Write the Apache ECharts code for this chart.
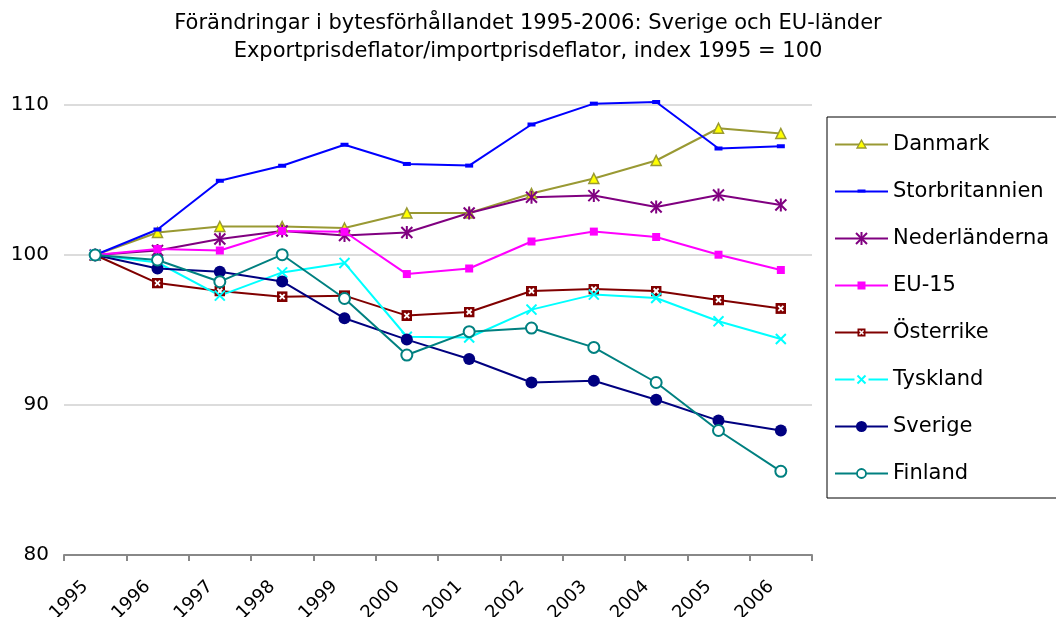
<!DOCTYPE html>
<html>
<head>
<meta charset="utf-8">
<script src="https://cdn.jsdelivr.net/npm/echarts@6/dist/echarts.min.js"></script>
<style>
  html, body { margin: 0; padding: 0; background: #fff; }
  #chart { width: 1056px; height: 617px; }
</style>
</head>
<body>
<div id="chart"></div>
<script>
// år och index (1995 = 100)
var years = ["1995", "1996", "1997", "1998", "1999", "2000", "2001", "2002", "2003", "2004", "2005", "2006"];
var danmark = [100, 101.5, 101.9, 101.9, 101.8, 102.8, 102.8, 104.1, 105.1, 106.3, 108.45, 108.1];
var storbritannien = [100, 101.7, 104.95, 105.95, 107.35, 106.07, 105.96, 108.7, 110.09, 110.2, 107.1, 107.25];
var nederlanderna = [100, 100.3, 101.07, 101.6, 101.3, 101.5, 102.8, 103.85, 103.96, 103.2, 104.0, 103.33];
var eu15 = [100, 100.4, 100.3, 101.6, 101.55, 98.73, 99.1, 100.9, 101.56, 101.2, 100.02, 99.0];
var osterrike = [100, 98.13, 97.6, 97.22, 97.29, 95.96, 96.2, 97.6, 97.73, 97.6, 97.0, 96.44];
var tyskland = [100, 99.5, 97.29, 98.84, 99.47, 94.55, 94.5, 96.36, 97.36, 97.13, 95.58, 94.4];
var sverige = [100, 99.1, 98.89, 98.24, 95.78, 94.36, 93.07, 91.5, 91.62, 90.35, 88.96, 88.3];
var finland = [100, 99.67, 98.22, 100.02, 97.1, 93.33, 94.89, 95.13, 93.84, 91.5, 88.3, 85.58];

var yMin = 80, yMax = 110, yStep = 10;

function svgUrl(body, w, h) {
  return 'image://data:image/svg+xml;charset=utf-8,' + encodeURIComponent(
    '<svg xmlns="http://www.w3.org/2000/svg" width="' + w + '" height="' + h + '" viewBox="0 0 ' + w + ' ' + h + '">' + body + '</svg>');
}

// markörer som svg-kroppar, ritade kring (cx, cy)
function starBody(cx, cy) {
  return '<g stroke="#800080" stroke-width="2">' +
    '<line x1="' + cx + '" y1="' + (cy - 6.5) + '" x2="' + cx + '" y2="' + (cy + 6.5) + '"/>' +
    '<line x1="' + (cx - 5.5) + '" y1="' + (cy - 5.5) + '" x2="' + (cx + 5.5) + '" y2="' + (cy + 5.5) + '"/>' +
    '<line x1="' + (cx + 5.5) + '" y1="' + (cy - 5.5) + '" x2="' + (cx - 5.5) + '" y2="' + (cy + 5.5) + '"/></g>';
}
function crossBody(cx, cy) {
  return '<g stroke="#00FFFF" stroke-width="2">' +
    '<line x1="' + (cx - 5) + '" y1="' + (cy - 5) + '" x2="' + (cx + 5) + '" y2="' + (cy + 5) + '"/>' +
    '<line x1="' + (cx + 5) + '" y1="' + (cy - 5) + '" x2="' + (cx - 5) + '" y2="' + (cy + 5) + '"/></g>';
}
function boxCrossBody(cx, cy) {
  return '<rect x="' + (cx - 5.5) + '" y="' + (cy - 5.5) + '" width="11" height="11" fill="#800000"/>' +
    '<g stroke="#ffffff" stroke-width="1.8"><line x1="' + (cx - 2.5) + '" y1="' + (cy - 2.5) + '" x2="' + (cx + 2.5) + '" y2="' + (cy + 2.5) + '"/>' +
    '<line x1="' + (cx + 2.5) + '" y1="' + (cy - 2.5) + '" x2="' + (cx - 2.5) + '" y2="' + (cy + 2.5) + '"/></g>';
}

var starIcon = svgUrl(starBody(7, 7), 14, 14);
var crossIcon = svgUrl(crossBody(6, 6), 12, 12);
var boxCrossIcon = svgUrl(boxCrossBody(5.5, 5.5), 11, 11);

// legendikoner: linje + liten markör
var LW = 53, LH = 14;
function legendIcon(color, marker) {
  var mid = LH / 2, cx = LW / 2;
  var gapLine = marker.gap
    ? '<line x1="0" y1="' + mid + '" x2="' + (cx - 7) + '" y2="' + mid + '" stroke="' + color + '" stroke-width="2"/>' +
      '<line x1="' + (cx + 7) + '" y1="' + mid + '" x2="' + LW + '" y2="' + mid + '" stroke="' + color + '" stroke-width="2"/>'
    : '<line x1="0" y1="' + mid + '" x2="' + LW + '" y2="' + mid + '" stroke="' + color + '" stroke-width="2"/>';
  return svgUrl(gapLine + marker.body(cx, mid), LW, LH);
}
var legendMarkers = {
  'Danmark': { color: '#999933', body: function (x, y) { return '<polygon points="' + x + ',' + (y - 4.5) + ' ' + (x + 4.5) + ',' + (y + 3.5) + ' ' + (x - 4.5) + ',' + (y + 3.5) + '" fill="#FFFF00" stroke="#999933" stroke-width="1.3"/>'; } },
  'Storbritannien': { color: '#0000FF', body: function (x, y) { return '<rect x="' + (x - 4) + '" y="' + (y - 2) + '" width="8" height="3" fill="#0000FF"/>'; } },
  'Nederländerna': { color: '#800080', body: starBody },
  'EU-15': { color: '#FF00FF', body: function (x, y) { return '<rect x="' + (x - 4) + '" y="' + (y - 4) + '" width="8" height="8" fill="#FF00FF"/>'; } },
  'Österrike': { color: '#800000', body: function (x, y) { return '<rect x="' + (x - 4) + '" y="' + (y - 4) + '" width="8" height="8" fill="#800000"/><g stroke="#fff" stroke-width="1.5"><line x1="' + (x - 2) + '" y1="' + (y - 2) + '" x2="' + (x + 2) + '" y2="' + (y + 2) + '"/><line x1="' + (x + 2) + '" y1="' + (y - 2) + '" x2="' + (x - 2) + '" y2="' + (y + 2) + '"/></g>'; } },
  'Tyskland': { color: '#00FFFF', gap: true, body: function (x, y) { return '<g stroke="#00FFFF" stroke-width="2"><line x1="' + (x - 4) + '" y1="' + (y - 4) + '" x2="' + (x + 4) + '" y2="' + (y + 4) + '"/><line x1="' + (x + 4) + '" y1="' + (y - 4) + '" x2="' + (x - 4) + '" y2="' + (y + 4) + '"/></g>'; } },
  'Sverige': { color: '#000080', body: function (x, y) { return '<circle cx="' + x + '" cy="' + y + '" r="5.5" fill="#000080"/>'; } },
  'Finland': { color: '#008080', body: function (x, y) { return '<circle cx="' + x + '" cy="' + y + '" r="4.5" fill="#fff" stroke="#008080" stroke-width="1.8"/>'; } }
};
var legendNames = ['Danmark', 'Storbritannien', 'Nederländerna', 'EU-15', 'Österrike', 'Tyskland', 'Sverige', 'Finland'];

function line(name, data, color, symbol, size, itemStyle) {
  return {
    name: name,
    type: 'line',
    data: data,
    symbol: symbol,
    symbolSize: size,
    showAllSymbol: true,
    clip: false,
    lineStyle: { color: color, width: 2 },
    itemStyle: itemStyle || { color: color },
    animation: false
  };
}

var chart = echarts.init(document.getElementById('chart'));
var option = {
  backgroundColor: '#fff',
  textStyle: { fontFamily: 'DejaVu Sans' },
  title: {
    text: 'Förändringar i bytesförhållandet 1995-2006: Sverige och EU-länder\nExportprisdeflator/importprisdeflator, index 1995 = 100',
    left: 'center',
    top: 5,
    textStyle: { fontSize: 21, fontWeight: 'normal', color: '#000', lineHeight: 28, fontFamily: 'DejaVu Sans' }
  },
  legend: {
    orient: 'vertical',
    left: 827,
    top: 117,
    padding: [17, 80, 14, 8],
    borderColor: '#000',
    borderWidth: 1,
    itemWidth: LW,
    itemHeight: LH,
    itemGap: 26,
    textStyle: { fontSize: 21, color: '#000', fontFamily: 'DejaVu Sans' },
    data: legendNames.map(function (n) {
      return { name: n, icon: legendIcon(legendMarkers[n].color, legendMarkers[n]) };
    })
  },
  grid: { left: 64, right: 244, top: 105, bottom: 62, containLabel: false, outerBoundsMode: 'none' },
  xAxis: {
    type: 'category',
    data: years,
    boundaryGap: true,
    axisLine: { lineStyle: { color: '#888', width: 2 } },
    axisTick: { show: true, length: 6, lineStyle: { color: '#888', width: 2 } },
    axisLabel: { rotate: 45, fontSize: 18, color: '#000', margin: 19, padding: [0, 14, 0, 0], fontFamily: 'DejaVu Sans' }
  },
  yAxis: {
    type: 'value',
    min: yMin,
    max: yMax,
    interval: yStep,
    axisLine: { show: false },
    axisTick: { show: false },
    axisLabel: { fontSize: 20, color: '#000', margin: 15, fontFamily: 'DejaVu Sans' },
    splitLine: { lineStyle: { color: '#d0d0d0', width: 1.5 } }
  },
  series: [
    line('Danmark', danmark, '#999933', 'triangle', 10, { color: '#FFFF00', borderColor: '#999933', borderWidth: 1.5 }),
    line('Storbritannien', storbritannien, '#0000FF', 'rect', [8, 4]),
    line('Nederländerna', nederlanderna, '#800080', starIcon, 14),
    line('EU-15', eu15, '#FF00FF', 'rect', 8),
    line('Österrike', osterrike, '#800000', boxCrossIcon, 11),
    line('Tyskland', tyskland, '#00FFFF', crossIcon, 12),
    line('Sverige', sverige, '#000080', 'circle', 12),
    line('Finland', finland, '#008080', 'emptyCircle', 11, { color: '#008080', borderWidth: 2 })
  ]
};
chart.setOption(option);
</script>
</body>
</html>
